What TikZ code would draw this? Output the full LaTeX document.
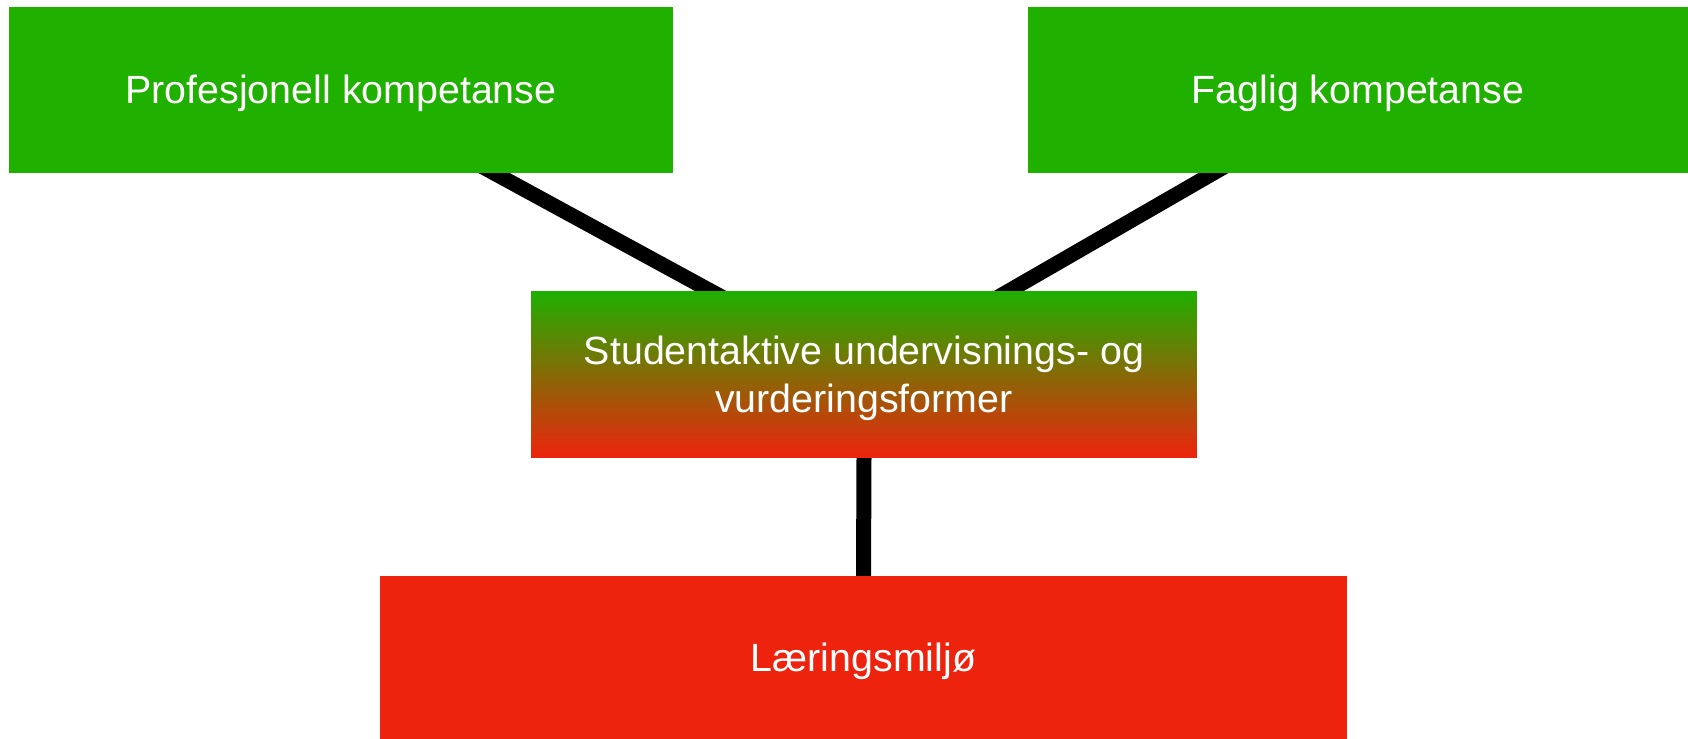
\documentclass[tikz,border=0pt]{standalone}
\usepackage{fontspec}
\setmainfont{Liberation Sans}
\usetikzlibrary{backgrounds}
\definecolor{boxgreen}{RGB}{31,176,0}
\definecolor{boxred}{RGB}{238,35,13}
\tikzset{box/.style={rectangle, inner sep=0pt, outer sep=0pt, text=white,
    font=\fontsize{22.4}{27.2}\selectfont, align=center,
    text height=16pt, text depth=0pt},
  link/.style={line width=0.3cm}}

\begin{document}
\begin{tikzpicture}[x=0.02cm,y=-0.02cm]
\useasboundingbox (0,0) rectangle (1688,739);
% top row
\node[box, fill=boxgreen, minimum width=13.28cm, minimum height=3.32cm] (prof) at (341,89.7) {Profesjonell kompetanse};
\node[box, fill=boxgreen, minimum width=13.2cm, minimum height=3.32cm] (fag) at (1358,89.7) {Faglig kompetanse};
% middle
\node[box, top color=boxgreen, bottom color=boxred, minimum width=13.32cm, minimum height=3.34cm,
  text height=43.2pt] (stud) at (864,374.5) {Studentaktive undervisnings- og\\vurderingsformer};
% bottom
\node[box, fill=boxred, minimum width=19.34cm, minimum height=3.26cm] (miljo) at (863.5,657.5) {Læringsmiljø};
\begin{scope}[on background layer]
\draw[link] (prof.center) -- (stud.center);
\draw[link] (fag.center) -- (stud.center);
\draw[link] (stud.south) -- (miljo.north);
\end{scope}
\end{tikzpicture}
\end{document}
